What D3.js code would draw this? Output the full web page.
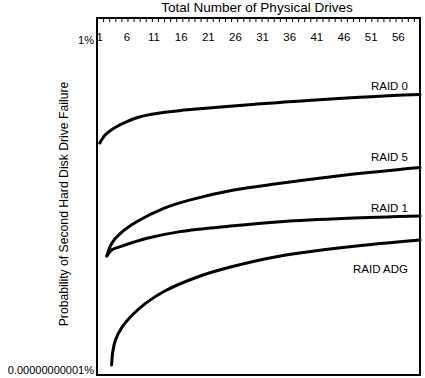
<!DOCTYPE html>
<html>
<head>
<meta charset="utf-8">
<script src="https://cdn.jsdelivr.net/npm/d3@7"></script>
<style>
  body { margin: 0; background: #fff; }
  text { font-family: "Liberation Sans", Arial, sans-serif; fill: #000; }
</style>
</head>
<body>
<div id="chart"></div>
<script>
// drive counts and second-failure probability (in %)
var raid0Drives = [1, 2, 3, 4, 6, 8, 10, 13, 16, 20, 25, 30, 35, 40, 45, 50, 55, 60];
var raid0Prob = [3.7e-4, 6.8e-4, 9.6e-4, 1.26e-3, 1.9e-3, 2.6e-3, 3.2e-3, 3.9e-3, 4.5e-3, 5.2e-3, 6.2e-3, 7.3e-3, 8.5e-3, 9.8e-3, 1.12e-2, 1.26e-2, 1.41e-2, 1.52e-2];

var raid5Drives = [2.3, 3.2, 4.8, 7.8, 12.8, 17.7, 25.7, 34.3, 46.7, 60];
var raid5Prob = [6.3e-8, 1.66e-7, 3.6e-7, 8.8e-7, 2.45e-6, 4.7e-6, 1.0e-5, 1.67e-5, 3.2e-5, 5.6e-5];

var raid1Drives = [2.3, 3.2, 4.8, 9.7, 15.8, 25.1, 34.3, 46.7, 60];
var raid1Prob = [6.3e-8, 1.0e-7, 1.29e-7, 2.45e-7, 4.1e-7, 6.3e-7, 8.8e-7, 1.14e-6, 1.35e-6];

var adgDrives = [3.2, 3.4, 3.9, 5, 7, 9.5, 13, 19, 25.1, 34.3, 46.7, 60];
var adgProb = [1.47e-11, 4.0e-11, 1.0e-10, 2.5e-10, 6.8e-10, 1.7e-9, 4.3e-9, 1.26e-8, 2.7e-8, 6.3e-8, 1.26e-7, 2.15e-7];

var seriesNames = ["RAID 0", "RAID 5", "RAID 1", "RAID ADG"];
var xTickLabels = [1, 6, 11, 16, 21, 26, 31, 36, 41, 46, 51, 56];
var yTickValues = [1, 1e-11];
var yTickLabels = ["1%", "0.00000000001%"];

var width = 425, height = 378;
// plot box edges (don't call these "top", that's window.top)
var boxLeft = 97, boxRight = 420, boxTop = 18, boxBottom = 375;

var svg = d3.select("#chart").append("svg")
  .attr("width", width)
  .attr("height", height);

var x = d3.scaleLinear().domain([0.5, 60]).range([boxLeft, boxRight]);
var y = d3.scaleLog().domain([1e-11, 1]).range([370, 40]);

// frame
svg.append("rect")
  .attr("x", boxLeft).attr("y", boxTop)
  .attr("width", boxRight - boxLeft).attr("height", boxBottom - boxTop)
  .attr("fill", "none").attr("stroke", "#000").attr("stroke-width", 2);

// little ticks hanging from the top edge
var tickScale = d3.scaleLinear().domain([0, 53]).range([boxLeft, boxRight]);
svg.append("g")
  .attr("transform", "translate(0," + boxTop + ")")
  .call(d3.axisBottom(tickScale).tickValues(d3.range(1, 53)).tickSize(4).tickFormat(""))
  .call(function(g) { g.select(".domain").remove(); })
  .selectAll("line").attr("stroke", "#000");

// top axis labels
svg.append("g").selectAll("text")
  .data(xTickLabels)
  .enter().append("text")
  .attr("x", function(d) { return x(d); })
  .attr("y", 41)
  .attr("text-anchor", "middle")
  .style("font-size", "11.5px")
  .text(function(d) { return d; });

svg.append("text")
  .attr("x", 257).attr("y", 12)
  .attr("text-anchor", "middle")
  .style("font-size", "13.5px")
  .text("Total Number of Physical Drives");

// y labels, only the two ends
svg.append("g").selectAll("text")
  .data(yTickValues)
  .enter().append("text")
  .attr("x", 94)
  .attr("y", function(d) { return y(d) + 4; })
  .attr("text-anchor", "end")
  .style("font-size", "11px")
  .text(function(d, i) { return yTickLabels[i]; });

svg.append("text")
  .attr("transform", "translate(68,204) rotate(-90)")
  .attr("text-anchor", "middle")
  .style("font-size", "12.2px")
  .text("Probability of Second Hard Disk Drive Failure");

var line = d3.line()
  .x(function(d) { return x(d[0]); })
  .y(function(d) { return y(d[1]); })
  .curve(d3.curveCatmullRom.alpha(0.5));

var series = [
  d3.zip(raid0Drives, raid0Prob),
  d3.zip(raid5Drives, raid5Prob),
  d3.zip(raid1Drives, raid1Prob),
  d3.zip(adgDrives, adgProb)
];

svg.append("g").selectAll("path")
  .data(series)
  .enter().append("path")
  .attr("d", line)
  .attr("fill", "none")
  .attr("stroke", "#000")
  .attr("stroke-width", 3)
  .attr("stroke-linecap", "round");

// series names sit just above/below their lines at the right
var labelY = [90, 161, 212, 273];
svg.append("g").selectAll("text")
  .data(seriesNames)
  .enter().append("text")
  .attr("x", 408)
  .attr("y", function(d, i) { return labelY[i]; })
  .attr("text-anchor", "end")
  .style("font-size", "11.5px")
  .text(function(d) { return d; });
</script>
</body>
</html>
